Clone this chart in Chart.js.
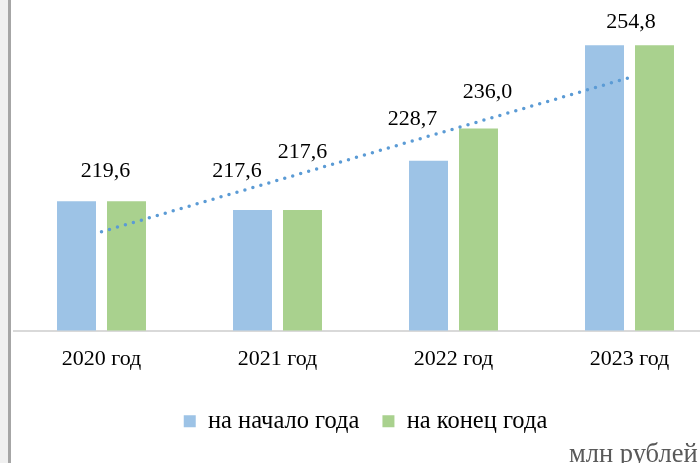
<!DOCTYPE html>
<html lang="ru">
<head>
<meta charset="utf-8">
<script src="https://cdn.jsdelivr.net/npm/chart.js@4.4.1/dist/chart.umd.min.js"></script>
<style>
  body { margin: 0; width: 700px; height: 463px; overflow: hidden; background: #f0f0f0; position: relative; }
  #ramka { position: absolute; left: 8px; top: 0; width: 720px; height: 463px; background: #fff; border-left: 3px solid #a6a6a6; }
  #grafik { position: absolute; left: 0; top: 0; width: 709px; height: 463px; }
  #edinica { position: absolute; left: 558px; top: 440px; font: 26.5px/1 'Liberation Serif', serif; color: #595959; white-space: nowrap; }
</style>
</head>
<body>
<div id="ramka">
  <div id="grafik"><canvas id="ostatki"></canvas></div>
  <div id="edinica">млн рублей</div>
</div>
<script>
// Данные (млн рублей)
const gody = ['2020 год', '2021 год', '2022 год', '2023 год'];
const naNachalo = [219.6, 217.6, 228.7, 254.8];
const naKonec = [219.6, 217.6, 236.0, 254.8];
const trend = [212.7, 224.3, 235.9, 247.5]; // линия тренда

// Где стоят подписи значений: набор, столбец, сдвиг от вершины столбца
const podpisi = [
    { ds: 0, i: 0, dx: 29, dy: -30 },
    { ds: 0, i: 1, dx: -15.5, dy: -39 },
    { ds: 1, i: 1, dx: 0, dy: -57.5 },
    { ds: 0, i: 2, dx: -16, dy: -42 },
    { ds: 1, i: 2, dx: 9, dy: -36.5 },
    { ds: 0, i: 3, dx: 26.5, dy: -22.5 }
];

const shrift = "'Liberation Serif', serif";

// Рисуем подписи значений поверх столбцов
const podpisiPlugin = {
    id: 'podpisi',
    afterDatasetsDraw(chart) {
        const ctx = chart.ctx;
        ctx.save();
        ctx.font = '22px ' + shrift;
        ctx.fillStyle = '#000';
        ctx.textAlign = 'center';
        ctx.textBaseline = 'middle';
        podpisi.forEach(p => {
            const bar = chart.getDatasetMeta(p.ds).data[p.i];
            const val = chart.data.datasets[p.ds].data[p.i];
            ctx.fillText(val.toFixed(1).replace('.', ','), bar.x + p.dx, bar.y + p.dy);
        });
        ctx.restore();
    }
};

const ctx = document.getElementById('ostatki').getContext('2d');
const grafik = new Chart(ctx, {
    type: 'bar',
    data: {
        labels: gody,
        datasets: [{
            label: 'на начало года',
            data: naNachalo,
            backgroundColor: '#9dc3e6',
            order: 1
        }, {
            label: 'на конец года',
            data: naKonec,
            backgroundColor: '#a9d18e',
            order: 1
        }, {
            type: 'line',
            label: 'тренд',
            data: trend,
            borderColor: '#5b9bd5',
            borderWidth: 3.5,
            borderDash: [0, 8.3],
            borderCapStyle: 'round',
            pointRadius: 0,
            fill: false,
            order: 0
        }]
    },
    options: {
        responsive: true,
        maintainAspectRatio: false,
        animation: false,
        categoryPercentage: 0.568,
        barPercentage: 0.78,
        layout: {
            padding: { left: 2.5, right: 2.5, top: 0, bottom: 19.5 }
        },
        plugins: {
            legend: {
                position: 'bottom',
                labels: {
                    boxWidth: 12,
                    boxHeight: 12,
                    padding: 23,
                    color: '#000',
                    font: { family: shrift, size: 24.5 },
                    filter: item => item.datasetIndex < 2
                }
            },
            tooltip: { enabled: false }
        },
        scales: {
            x: {
                grid: { display: false },
                border: { display: true, color: '#d9d9d9', width: 2 },
                ticks: {
                    color: '#000',
                    padding: 7,
                    font: { family: shrift, size: 22 }
                },
                afterFit: axis => { axis.height += 7; } // отступ до легенды
            },
            y: {
                display: false,
                min: 190.4,
                max: 265
            }
        }
    },
    plugins: [podpisiPlugin]
});
</script>
</body>
</html>
